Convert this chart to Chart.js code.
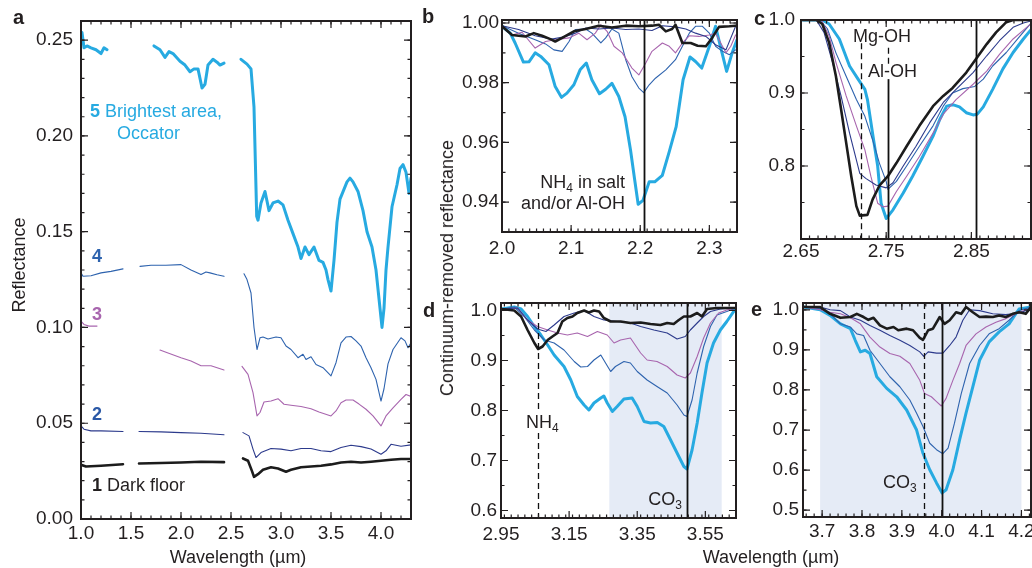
<!DOCTYPE html>
<html>
<head>
<meta charset="utf-8">
<script src="https://cdn.jsdelivr.net/npm/chart.js@4.4.1/dist/chart.umd.min.js"></script>
<style>
  body { margin: 0; background: #fff; font-family: "Liberation Sans", Arial, sans-serif; }
  #fig { position: relative; width: 1032px; height: 568px; overflow: hidden; }
  #fig canvas { position: absolute; left: 0; top: 0; }
  .t { position: absolute; white-space: nowrap; font-size: 18px; line-height: 18px; color: #231f20; }
  .t sub { font-size: 12px; vertical-align: baseline; position: relative; top: 4px; }
  .lab { font-weight: bold; font-size: 20px; }
  .rot { transform: translate(-50%, -50%) rotate(-90deg); }
  .ctr { transform: translate(-50%, -50%); }
</style>
</head>
<body>
<div id="fig">
  <canvas id="pa" width="1032" height="568"></canvas>
  <canvas id="pb" width="1032" height="568"></canvas>
  <canvas id="pc" width="1032" height="568"></canvas>
  <canvas id="pd" width="1032" height="568"></canvas>
  <canvas id="pe" width="1032" height="568"></canvas>

  <div class="t lab" style="left:13px;top:8px">a</div>
  <div class="t lab" style="left:422px;top:7px">b</div>
  <div class="t lab" style="left:754px;top:9px">c</div>
  <div class="t lab" style="left:423px;top:301px">d</div>
  <div class="t lab" style="left:751px;top:300px">e</div>

  <div class="t rot" style="left:19px;top:265px">Reflectance</div>
  <div class="t rot" style="left:447px;top:268px">Continuum-removed reflectance</div>
  <div class="t ctr" style="left:238px;top:557px">Wavelength (µm)</div>
  <div class="t ctr" style="left:771px;top:557px">Wavelength (µm)</div>

  <div class="t" style="left:90px;top:102px;color:#27aae1"><b>5</b> Brightest area,</div>
  <div class="t" style="left:117px;top:124px;color:#27aae1">Occator</div>
  <div class="t" style="left:92px;top:247px;color:#2e63ae"><b>4</b></div>
  <div class="t" style="left:92px;top:305px;color:#a865ae"><b>3</b></div>
  <div class="t" style="left:92px;top:405px;color:#2a58a6"><b>2</b></div>
  <div class="t" style="left:92px;top:476px"><b>1</b> Dark floor</div>

  <div class="t" style="right:407px;top:173px">NH<sub>4</sub> in salt</div>
  <div class="t" style="right:407px;top:194px">and/or Al-OH</div>
  <div class="t" style="left:853px;top:27px">Mg-OH</div>
  <div class="t" style="left:868px;top:62px">Al-OH</div>
  <div class="t" style="left:526px;top:413px;background:#fff">NH<sub>4</sub></div>
  <div class="t" style="right:350px;top:490px">CO<sub>3</sub></div>
  <div class="t" style="left:883px;top:473px">CO<sub>3</sub></div>
</div>

<script>
// ---------- panel a : reflectance spectra (null = gap between detectors)
const a5 = [[1.00,0.251],[1.01,0.254],[1.03,0.246],[1.06,0.247],[1.10,0.246],[1.15,0.245],[1.20,0.243],[1.23,0.246],[1.26,0.245],[1.5,null],
  [1.73,0.247],[1.79,0.245],[1.84,0.241],[1.88,0.244],[1.92,0.243],[1.99,0.239],[2.04,0.237],[2.09,0.2335],[2.13,0.235],[2.17,0.235],[2.21,0.225],[2.24,0.227],[2.27,0.237],[2.32,0.240],[2.36,0.2385],[2.39,0.237],[2.43,0.238],[2.5,null],
  [2.60,0.240],[2.66,0.2375],[2.70,0.235],[2.73,0.215],[2.757,0.158],[2.77,0.156],[2.80,0.165],[2.84,0.171],[2.88,0.161],[2.92,0.165],[2.97,0.166],[3.02,0.164],[3.07,0.156],[3.12,0.149],[3.17,0.142],[3.20,0.136],[3.24,0.142],[3.28,0.138],[3.33,0.142],[3.38,0.135],[3.42,0.134],[3.45,0.130],[3.47,0.125],[3.50,0.119],[3.53,0.135],[3.56,0.155],[3.59,0.167],[3.66,0.176],[3.69,0.178],[3.72,0.176],[3.77,0.171],[3.82,0.161],[3.86,0.150],[3.91,0.142],[3.95,0.130],[3.98,0.115],[4.01,0.100],[4.03,0.110],[4.05,0.130],[4.07,0.142],[4.11,0.163],[4.16,0.1745],[4.19,0.183],[4.22,0.185],[4.25,0.181],[4.28,0.170],[4.30,0.178]];
const a4 = [[1.00,0.1285],[1.02,0.1267],[1.10,0.127],[1.20,0.1285],[1.30,0.1293],[1.42,0.1306],[1.5,null],[1.59,0.1319],[1.70,0.1325],[1.85,0.1325],[2.00,0.1328],[2.10,0.130],[2.20,0.1276],[2.25,0.129],[2.29,0.1285],[2.36,0.1275],[2.43,0.1267],[2.5,null],
  [2.63,0.128],[2.66,0.125],[2.70,0.118],[2.73,0.100],[2.76,0.0885],[2.79,0.0946],[2.82,0.095],[2.87,0.094],[2.95,0.095],[3.00,0.0946],[3.05,0.0903],[3.10,0.0885],[3.17,0.0842],[3.22,0.086],[3.25,0.0833],[3.30,0.0847],[3.35,0.0807],[3.42,0.079],[3.50,0.0747],[3.55,0.0816],[3.60,0.092],[3.65,0.095],[3.70,0.0953],[3.75,0.093],[3.80,0.0903],[3.85,0.0842],[3.90,0.079],[3.95,0.0729],[4.00,0.0616],[4.03,0.068],[4.07,0.081],[4.12,0.0885],[4.20,0.0946],[4.24,0.093],[4.27,0.0894],[4.30,0.092]];
const a3 = [[1.00,0.1033],[1.03,0.1016],[1.08,0.1007],[1.16,0.1007],[1.5,null],[1.79,0.0882],[1.85,0.0871],[2.00,0.0842],[2.10,0.0825],[2.20,0.080],[2.30,0.080],[2.43,0.0778],[2.5,null],
  [2.61,0.0797],[2.67,0.0755],[2.72,0.066],[2.76,0.0538],[2.79,0.0556],[2.83,0.0611],[2.90,0.0616],[2.97,0.0628],[3.03,0.0599],[3.10,0.0594],[3.20,0.0587],[3.30,0.0576],[3.38,0.0559],[3.50,0.0538],[3.55,0.0564],[3.60,0.0607],[3.65,0.0621],[3.72,0.0621],[3.78,0.060],[3.85,0.0573],[3.92,0.0538],[4.00,0.0486],[4.05,0.0538],[4.12,0.058],[4.20,0.0625],[4.25,0.065],[4.30,0.064]];
const a2 = [[1.00,0.0486],[1.03,0.0469],[1.10,0.046],[1.20,0.046],[1.42,0.0457],[1.5,null],[1.58,0.0457],[1.80,0.0455],[2.00,0.0451],[2.20,0.0448],[2.43,0.044],[2.5,null],
  [2.62,0.0451],[2.68,0.0434],[2.72,0.0365],[2.75,0.0321],[2.80,0.0347],[2.90,0.0368],[3.00,0.0365],[3.10,0.0356],[3.20,0.0368],[3.30,0.0368],[3.40,0.0356],[3.50,0.0352],[3.60,0.0373],[3.70,0.0385],[3.80,0.0378],[3.90,0.0365],[4.00,0.0338],[4.05,0.0356],[4.10,0.039],[4.20,0.038],[4.30,0.0387]];
const a1 = [[1.00,0.0283],[1.05,0.0274],[1.20,0.0278],[1.42,0.0286],[1.5,null],[1.58,0.029],[1.80,0.0292],[2.00,0.0295],[2.20,0.0299],[2.43,0.0297],[2.5,null],
  [2.62,0.0316],[2.67,0.0304],[2.71,0.025],[2.73,0.022],[2.77,0.0234],[2.82,0.0257],[2.90,0.027],[2.97,0.0264],[3.05,0.0247],[3.10,0.0257],[3.20,0.027],[3.30,0.0274],[3.40,0.0278],[3.50,0.0285],[3.60,0.0295],[3.70,0.0299],[3.80,0.0295],[3.90,0.0299],[4.00,0.0304],[4.10,0.0309],[4.20,0.0313],[4.30,0.0313]];

// ---------- panel b : 2.0-2.35 um, continuum removed
const b5 = [[2.000,0.9989],[2.012,0.9966],[2.019,0.9933],[2.031,0.9869],[2.039,0.987],[2.048,0.990],[2.056,0.9888],[2.068,0.986],[2.077,0.9787],[2.086,0.9751],[2.094,0.9765],[2.104,0.9793],[2.113,0.9843],[2.122,0.9866],[2.130,0.981],[2.141,0.9763],[2.150,0.9778],[2.159,0.9798],[2.169,0.9754],[2.178,0.9686],[2.186,0.9574],[2.192,0.9474],[2.197,0.9393],[2.204,0.9406],[2.213,0.9468],[2.221,0.9468],[2.232,0.949],[2.242,0.9569],[2.252,0.9653],[2.262,0.981],[2.272,0.9886],[2.280,0.9871],[2.289,0.9849],[2.300,0.9922],[2.309,0.9989],[2.316,0.9922],[2.325,0.9838],[2.333,0.990],[2.340,0.9944]];
const b4 = [[2.000,0.9991],[2.024,0.9966],[2.048,0.9944],[2.063,0.993],[2.075,0.991],[2.087,0.9905],[2.097,0.9938],[2.106,0.9978],[2.121,0.998],[2.130,0.9966],[2.143,0.9933],[2.150,0.995],[2.159,0.998],[2.169,0.9966],[2.179,0.9877],[2.188,0.982],[2.198,0.9782],[2.205,0.9767],[2.213,0.9793],[2.222,0.9815],[2.237,0.9843],[2.251,0.9877],[2.261,0.9922],[2.271,0.9966],[2.280,0.9989],[2.290,0.9989],[2.300,0.9966],[2.309,0.9922],[2.319,0.9905],[2.329,0.9894],[2.338,0.991]];
const b3 = [[2.000,0.9991],[2.0145,0.996],[2.029,0.9969],[2.048,0.9916],[2.063,0.9938],[2.077,0.9944],[2.097,0.995],[2.111,0.9966],[2.123,0.9944],[2.135,0.9966],[2.143,0.9994],[2.152,0.9972],[2.162,0.9922],[2.174,0.990],[2.188,0.9849],[2.198,0.9826],[2.208,0.9866],[2.217,0.9905],[2.232,0.9933],[2.242,0.9922],[2.251,0.990],[2.261,0.9933],[2.271,0.9957],[2.285,0.9955],[2.300,0.996],[2.309,0.9966],[2.324,0.990],[2.331,0.9922],[2.338,0.996]];
const b2 = [[2.000,0.9991],[2.024,0.9978],[2.048,0.9957],[2.072,0.9946],[2.092,0.9955],[2.106,0.9966],[2.121,0.9983],[2.140,0.998],[2.159,0.9983],[2.179,0.9978],[2.198,0.998],[2.217,0.9975],[2.232,0.9991],[2.251,0.9987],[2.266,0.998],[2.280,0.9966],[2.295,0.9955],[2.309,0.9927],[2.324,0.991],[2.338,0.9989]];
const b1 = [[2.000,0.9989],[2.0145,0.996],[2.034,0.9955],[2.046,0.9966],[2.058,0.9957],[2.070,0.9946],[2.077,0.9938],[2.087,0.995],[2.104,0.9972],[2.121,0.998],[2.140,0.9991],[2.159,0.9985],[2.179,0.9991],[2.198,0.9989],[2.217,0.9991],[2.227,0.9994],[2.237,0.9972],[2.246,0.998],[2.251,0.9994],[2.261,0.9933],[2.273,0.9933],[2.283,0.9924],[2.295,0.9922],[2.304,0.995],[2.314,0.9987],[2.329,0.9989],[2.338,0.9991]];

// ---------- panel c : 2.65-2.92 um
const c5 = [[2.652,1.0],[2.675,1.0],[2.683,0.9945],[2.695,0.974],[2.707,0.937],[2.717,0.919],[2.725,0.905],[2.728,0.891],[2.734,0.845],[2.740,0.800],[2.744,0.749],[2.750,0.728],[2.758,0.740],[2.770,0.763],[2.781,0.786],[2.793,0.813],[2.805,0.841],[2.813,0.864],[2.821,0.882],[2.828,0.884],[2.836,0.881],[2.844,0.873],[2.852,0.870],[2.857,0.871],[2.864,0.881],[2.875,0.905],[2.887,0.933],[2.899,0.9555],[2.911,0.974],[2.921,0.988]];
const c4 = [[2.652,1.0],[2.672,1.0],[2.681,0.988],[2.691,0.955],[2.703,0.923],[2.715,0.891],[2.725,0.868],[2.734,0.836],[2.742,0.804],[2.750,0.779],[2.752,0.768],[2.762,0.779],[2.774,0.800],[2.789,0.827],[2.805,0.855],[2.817,0.882],[2.828,0.900],[2.840,0.906],[2.854,0.909],[2.864,0.919],[2.875,0.937],[2.891,0.9555],[2.907,0.978],[2.921,0.997]];
const c3 = [[2.652,1.0],[2.674,1.0],[2.683,0.978],[2.691,0.942],[2.703,0.896],[2.715,0.855],[2.725,0.822],[2.732,0.786],[2.740,0.749],[2.746,0.744],[2.752,0.745],[2.762,0.765],[2.774,0.786],[2.789,0.813],[2.805,0.845],[2.817,0.871],[2.832,0.891],[2.852,0.912],[2.868,0.930],[2.883,0.953],[2.899,0.974],[2.921,0.996]];
const c2 = [[2.652,1.0],[2.668,1.0],[2.677,0.983],[2.687,0.942],[2.697,0.896],[2.707,0.845],[2.719,0.790],[2.726,0.783],[2.738,0.774],[2.750,0.770],[2.758,0.777],[2.770,0.800],[2.785,0.827],[2.801,0.859],[2.817,0.887],[2.832,0.905],[2.852,0.928],[2.868,0.951],[2.883,0.9716],[2.899,0.990],[2.911,0.996],[2.921,0.999]];
const c1 = [[2.652,1.0],[2.668,1.0],[2.675,0.9945],[2.683,0.969],[2.691,0.923],[2.697,0.878],[2.703,0.832],[2.709,0.786],[2.715,0.745],[2.719,0.732],[2.728,0.733],[2.734,0.754],[2.742,0.773],[2.752,0.786],[2.762,0.804],[2.774,0.827],[2.789,0.855],[2.805,0.882],[2.817,0.896],[2.828,0.907],[2.844,0.928],[2.855,0.946],[2.868,0.967],[2.879,0.983],[2.891,0.997],[2.899,1.0],[2.921,1.0]];

// ---------- panel d : 2.95-3.64 um
const d5 = [[2.952,1.003],[2.989,1.007],[3.009,1.003],[3.028,0.988],[3.048,0.968],[3.067,0.951],[3.087,0.931],[3.106,0.911],[3.135,0.888],[3.155,0.861],[3.174,0.828],[3.194,0.811],[3.208,0.801],[3.223,0.815],[3.243,0.825],[3.252,0.829],[3.262,0.815],[3.277,0.798],[3.291,0.808],[3.311,0.823],[3.335,0.825],[3.350,0.808],[3.370,0.778],[3.389,0.775],[3.409,0.776],[3.428,0.768],[3.448,0.741],[3.467,0.715],[3.487,0.688],[3.496,0.683],[3.511,0.721],[3.526,0.775],[3.540,0.835],[3.555,0.895],[3.574,0.935],[3.594,0.961],[3.613,0.978],[3.640,1.005]];
const d4 = [[2.952,1.003],[2.989,1.007],[3.018,0.988],[3.048,0.961],[3.077,0.941],[3.106,0.935],[3.135,0.921],[3.165,0.898],[3.184,0.887],[3.204,0.888],[3.223,0.901],[3.243,0.911],[3.257,0.895],[3.272,0.878],[3.286,0.888],[3.311,0.898],[3.330,0.895],[3.350,0.878],[3.379,0.861],[3.408,0.848],[3.438,0.835],[3.467,0.811],[3.487,0.791],[3.496,0.788],[3.511,0.821],[3.526,0.875],[3.545,0.928],[3.565,0.968],[3.584,0.991],[3.613,0.998],[3.640,1.005]];
const d3 = [[2.952,1.003],[2.999,1.005],[3.028,0.981],[3.057,0.968],[3.087,0.961],[3.116,0.955],[3.145,0.951],[3.174,0.955],[3.204,0.948],[3.233,0.958],[3.262,0.951],[3.282,0.935],[3.301,0.941],[3.330,0.945],[3.360,0.915],[3.379,0.901],[3.408,0.898],[3.438,0.888],[3.467,0.871],[3.491,0.865],[3.506,0.875],[3.526,0.908],[3.545,0.945],[3.565,0.975],[3.589,0.995],[3.613,1.001],[3.640,1.005]];
const d2 = [[2.952,1.003],[2.999,1.005],[3.028,0.981],[3.057,0.963],[3.082,0.958],[3.106,0.971],[3.135,0.988],[3.165,0.995],[3.194,1.0],[3.223,0.988],[3.252,0.981],[3.291,0.978],[3.330,0.975],[3.360,0.968],[3.399,0.961],[3.438,0.955],[3.467,0.943],[3.491,0.948],[3.506,0.961],[3.526,0.975],[3.545,0.988],[3.565,0.998],[3.594,1.003],[3.640,1.005]];
const d1 = [[2.952,1.003],[2.989,1.0],[3.009,0.988],[3.028,0.961],[3.048,0.935],[3.059,0.923],[3.072,0.928],[3.087,0.941],[3.101,0.948],[3.116,0.955],[3.130,0.978],[3.145,0.985],[3.160,0.988],[3.174,0.995],[3.194,1.0],[3.208,0.996],[3.223,1.0],[3.238,0.998],[3.252,0.985],[3.272,0.978],[3.301,0.978],[3.330,0.975],[3.360,0.976],[3.389,0.973],[3.418,0.971],[3.438,0.975],[3.457,0.973],[3.472,0.981],[3.487,0.988],[3.506,0.988],[3.526,0.995],[3.540,0.988],[3.555,1.003],[3.584,1.005],[3.613,1.005],[3.640,1.005]];

// ---------- panel e : 3.65-4.22 um
const e5 = [[3.654,1.007],[3.695,1.0],[3.720,0.986],[3.746,0.965],[3.771,0.953],[3.783,0.924],[3.796,0.895],[3.808,0.899],[3.820,0.891],[3.837,0.833],[3.862,0.804],[3.887,0.783],[3.912,0.750],[3.937,0.700],[3.953,0.642],[3.970,0.601],[3.987,0.568],[4.001,0.543],[4.011,0.551],[4.028,0.601],[4.045,0.676],[4.061,0.742],[4.078,0.808],[4.095,0.874],[4.119,0.920],[4.144,0.945],[4.169,0.965],[4.194,1.002],[4.224,1.007]];
const e4 = [[3.654,1.007],[3.695,1.003],[3.720,0.990],[3.746,0.965],[3.771,0.957],[3.787,0.940],[3.804,0.936],[3.820,0.899],[3.845,0.866],[3.870,0.833],[3.895,0.808],[3.920,0.775],[3.937,0.742],[3.953,0.709],[3.970,0.667],[3.987,0.651],[4.003,0.641],[4.016,0.655],[4.032,0.717],[4.049,0.791],[4.070,0.866],[4.095,0.911],[4.119,0.940],[4.144,0.953],[4.169,0.974],[4.194,0.998],[4.224,1.007]];
const e3 = [[3.654,1.007],[3.695,1.0],[3.720,0.994],[3.746,0.990],[3.771,0.980],[3.796,0.965],[3.820,0.932],[3.845,0.907],[3.870,0.891],[3.895,0.884],[3.920,0.866],[3.945,0.824],[3.957,0.791],[3.974,0.783],[3.987,0.771],[3.999,0.760],[4.011,0.779],[4.028,0.824],[4.045,0.866],[4.061,0.911],[4.086,0.940],[4.111,0.957],[4.136,0.969],[4.161,0.978],[4.186,0.990],[4.211,1.0],[4.224,1.002]];
const e2 = [[3.654,1.007],[3.695,1.007],[3.720,1.0],[3.746,0.998],[3.771,0.982],[3.796,0.974],[3.820,0.961],[3.845,0.949],[3.870,0.936],[3.895,0.924],[3.920,0.911],[3.945,0.895],[3.955,0.884],[3.966,0.895],[3.987,0.892],[4.003,0.892],[4.020,0.911],[4.036,0.932],[4.053,0.974],[4.070,1.0],[4.095,0.998],[4.128,0.990],[4.161,0.988],[4.194,0.992],[4.224,1.002]];
const e1 = [[3.654,1.007],[3.695,1.007],[3.720,0.990],[3.746,0.980],[3.771,0.982],[3.787,0.990],[3.804,0.982],[3.816,0.975],[3.829,0.980],[3.845,0.961],[3.862,0.953],[3.879,0.957],[3.891,0.949],[3.912,0.953],[3.928,0.949],[3.945,0.930],[3.953,0.925],[3.966,0.949],[3.978,0.953],[3.995,0.982],[4.007,0.965],[4.020,0.974],[4.036,0.994],[4.049,0.990],[4.061,1.007],[4.078,0.994],[4.095,0.982],[4.111,0.983],[4.128,0.982],[4.144,0.986],[4.161,0.982],[4.178,0.990],[4.194,0.994],[4.211,0.990],[4.224,1.007]];

// tick labels
const aX = [1.0, 1.5, 2.0, 2.5, 3.0, 3.5, 4.0];
const aY = [0.00, 0.05, 0.10, 0.15, 0.20, 0.25];
const bX = [2.0, 2.1, 2.2, 2.3];
const bY = [0.94, 0.96, 0.98, 1.00];
const cX = [2.65, 2.75, 2.85];
const cY = [0.8, 0.9, 1.0];
const dX = [2.95, 3.15, 3.35, 3.55];
const dY = [0.6, 0.7, 0.8, 0.9, 1.0];
const eX = [3.7, 3.8, 3.9, 4.0, 4.1, 4.2];
const eY = [0.5, 0.6, 0.7, 0.8, 0.9, 1.0];

// band positions (um) and shaded ranges
const bLines = [{ x: 2.205 }];
const cLines = [{ x: 2.72, from: 0.70, to: 0.968, dash: true }, { x: 2.752, from: 0.937, to: 0.962, dash: true }, { x: 2.752, from: 0.70, to: 0.919 }, { x: 2.855 }];
const dLines = [{ x: 3.06, dash: true }, { x: 3.495 }];
const eLines = [{ x: 3.955, dash: true }, { x: 4.0 }];
const dShade = [3.268, 3.598];
const eShade = [3.695, 4.2];

const INK = '#231f20';
const COL = { s5: '#27aae1', s4: '#2e63ae', s3: '#a865ae', s2: '#2c3a8c', s1: '#1c1c1c' };

const framePlugin = {
  id: 'frame',
  beforeDatasetsDraw(chart, args, o) {
    if (!o.shade) return;
    const { ctx, chartArea: ca, scales: { x } } = chart;
    ctx.save();
    ctx.fillStyle = '#e5ebf6';
    const x0 = x.getPixelForValue(o.shade[0]), x1 = x.getPixelForValue(o.shade[1]);
    ctx.fillRect(x0, ca.top, x1 - x0, ca.bottom - ca.top);
    ctx.restore();
  },
  afterDatasetsDraw(chart, args, o) {
    const { ctx, chartArea: ca, scales: { x, y } } = chart;
    ctx.save();
    ctx.strokeStyle = '#111';
    (o.lines || []).forEach(l => {
      const px = Math.round(x.getPixelForValue(l.x)) + 0.5;
      const yT = l.to !== undefined ? y.getPixelForValue(l.to) : ca.top;
      const yB = l.from !== undefined ? y.getPixelForValue(l.from) : ca.bottom;
      ctx.lineWidth = l.dash ? 1.3 : 1.8;
      ctx.setLineDash(l.dash ? [6, 4] : []);
      ctx.beginPath(); ctx.moveTo(px, yT); ctx.lineTo(px, yB); ctx.stroke();
    });
    ctx.setLineDash([]);
    // inward ticks on all four sides
    ctx.strokeStyle = INK;
    ctx.lineWidth = 1.2;
    const tick = (v, len, axis) => {
      ctx.beginPath();
      if (axis === 'x') {
        const px = x.getPixelForValue(v);
        ctx.moveTo(px, ca.bottom); ctx.lineTo(px, ca.bottom - len);
        ctx.moveTo(px, ca.top); ctx.lineTo(px, ca.top + len);
      } else {
        const py = y.getPixelForValue(v);
        ctx.moveTo(ca.left, py); ctx.lineTo(ca.left + len, py);
        ctx.moveTo(ca.right, py); ctx.lineTo(ca.right - len, py);
      }
      ctx.stroke();
    };
    [['x', x, o.xMinor], ['y', y, o.yMinor]].forEach(([axis, s, step]) => {
      for (let i = Math.ceil(s.min / step - 1e-6); i * step <= s.max + 1e-9; i++) tick(i * step, 3.5, axis);
    });
    o.xMajor.forEach(v => tick(v, 7, 'x'));
    o.yMajor.forEach(v => tick(v, 7, 'y'));
    ctx.lineWidth = 2;
    ctx.strokeRect(ca.left, ca.top, ca.right - ca.left, ca.bottom - ca.top);
    ctx.restore();
  }
};

function series(pairs, color, width) {
  return {
    data: pairs.map(p => ({ x: p[0], y: p[1] })),
    borderColor: color, borderWidth: width,
    pointRadius: 0, tension: 0, spanGaps: false,
    borderJoinStyle: 'round', borderCapStyle: 'round'
  };
}

function panel(id, p) {
  const yW = 70, xH = 34;
  const font = { family: '"Liberation Sans", Arial, sans-serif', size: 19 };
  new Chart(document.getElementById(id), {
    type: 'line',
    data: {
      datasets: [
        series(p.s[4], COL.s1, 2.6),
        series(p.s[3], COL.s2, 1.1),
        series(p.s[2], COL.s3, 1.1),
        series(p.s[1], COL.s4, 1.1),
        series(p.s[0], COL.s5, 3.0)
      ]
    },
    options: {
      responsive: false, animation: false, events: [], devicePixelRatio: 1,
      layout: { padding: { left: p.l - yW, right: 1032 - p.r, top: p.t, bottom: 568 - p.b - xH } },
      plugins: {
        legend: { display: false }, tooltip: { enabled: false },
        frame: { lines: p.lines, shade: p.shade, xMinor: p.xMinor, yMinor: p.yMinor, xMajor: p.xTicks, yMajor: p.yTicks }
      },
      scales: {
        x: {
          type: 'linear', min: p.xMin, max: p.xMax,
          grid: { display: false, drawTicks: false }, border: { display: false },
          afterBuildTicks: s => { s.ticks = p.xTicks.map(v => ({ value: v })); },
          afterFit: s => { s.height = xH; s.paddingLeft = 0; s.paddingRight = 0; },
          ticks: { padding: p.xPad, font, color: INK, maxRotation: 0, autoSkip: false, callback: v => v.toFixed(p.xDec) }
        },
        y: {
          type: 'linear', min: p.yMin, max: p.yMax,
          grid: { display: false, drawTicks: false }, border: { display: false },
          afterBuildTicks: s => { s.ticks = p.yTicks.map(v => ({ value: v })); },
          afterFit: s => { s.width = yW; s.paddingTop = 0; s.paddingBottom = 0; },
          ticks: { padding: p.yPad, font, color: INK, autoSkip: false, callback: v => v.toFixed(p.yDec) }
        }
      }
    },
    plugins: [framePlugin]
  });
}

panel('pa', { s: [a5, a4, a3, a2, a1], l: 81, r: 411, t: 21, b: 519,
  xMin: 1.0, xMax: 4.3, yMin: 0, yMax: 0.26, xTicks: aX, yTicks: aY, xDec: 1, yDec: 2,
  xMinor: 0.1, yMinor: 0.01, xPad: 3, yPad: 8 });
panel('pb', { s: [b5, b4, b3, b2, b1], l: 502, r: 737, t: 20, b: 232,
  xMin: 2.0, xMax: 2.34, yMin: 0.93, yMax: 1.001, xTicks: bX, yTicks: bY, xDec: 1, yDec: 2,
  xMinor: 0.01, yMinor: 0.01, xPad: 5, yPad: 3, lines: bLines });
panel('pc', { s: [c5, c4, c3, c2, c1], l: 801, r: 1031, t: 20, b: 239,
  xMin: 2.65, xMax: 2.92, yMin: 0.70, yMax: 1.0, xTicks: cX, yTicks: cY, xDec: 2, yDec: 1,
  xMinor: 0.01, yMinor: 0.05, xPad: 1, yPad: 6, lines: cLines });
panel('pd', { s: [d5, d4, d3, d2, d1], l: 501, r: 736, t: 303, b: 518,
  xMin: 2.95, xMax: 3.64, yMin: 0.585, yMax: 1.015, xTicks: dX, yTicks: dY, xDec: 2, yDec: 1,
  xMinor: 0.02, yMinor: 0.05, xPad: 5, yPad: 4, lines: dLines, shade: dShade });
panel('pe', { s: [e5, e4, e3, e2, e1], l: 803, r: 1031, t: 303, b: 517,
  xMin: 3.652, xMax: 4.224, yMin: 0.483, yMax: 1.017, xTicks: eX, yTicks: eY, xDec: 1, yDec: 1,
  xMinor: 0.02, yMinor: 0.05, xPad: 3, yPad: 4, lines: eLines, shade: eShade });
</script>
</body>
</html>
